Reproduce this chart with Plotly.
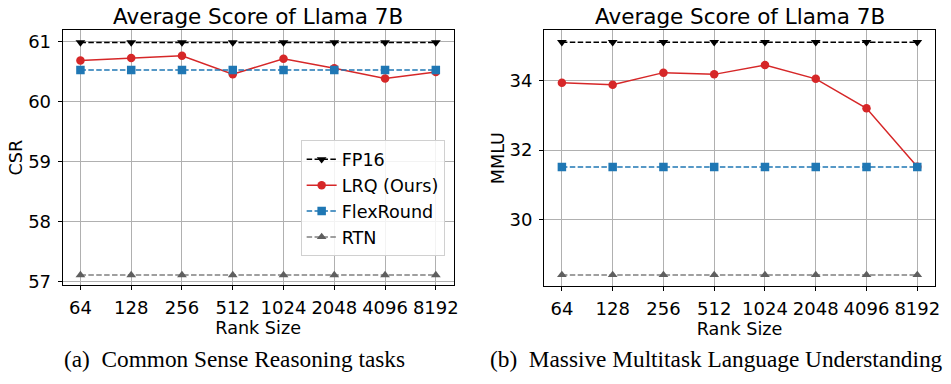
import plotly.graph_objects as go

ranks = ["64", "128", "256", "512", "1024", "2048", "4096", "8192"]

csr_fp16 = [60.98] * 8
csr_lrq = [60.68, 60.72, 60.76, 60.45, 60.71, 60.55, 60.38, 60.49]
csr_flex = [60.52] * 8
csr_rtn = [57.11] * 8

mmlu_fp16 = [35.12] * 8
mmlu_lrq = [33.95, 33.89, 34.24, 34.19, 34.46, 34.06, 33.21, 31.52]
mmlu_flex = [31.51] * 8
mmlu_rtn = [28.39] * 8

names = ["FP16", "LRQ (Ours)", "FlexRound", "RTN"]
line_colors = ["#000000", "#d62728", "#1f77b4", "#808080"]
marker_colors = ["#000000", "#d62728", "#1f77b4", "#5f5f5f"]
symbols = ["triangle-down", "circle", "square", "triangle-up"]
dashes = ["5.5px,2.4px", "solid", "5.5px,2.4px", "5.5px,2.4px"]

FONT = "DejaVu Sans"
TICK = 18
LAB = 17.6
fig = go.Figure()

left = [csr_fp16, csr_lrq, csr_flex, csr_rtn]
right = [mmlu_fp16, mmlu_lrq, mmlu_flex, mmlu_rtn]

for i in range(4):
    fig.add_trace(go.Scatter(
        x=list(range(8)), y=left[i], name=names[i], mode="lines+markers",
        line=dict(color=line_colors[i], width=1.5, dash=dashes[i]),
        marker=dict(symbol=symbols[i], size=8.5, color=marker_colors[i]),
        xaxis="x", yaxis="y", legendgroup=names[i], showlegend=True))
for i in range(4):
    fig.add_trace(go.Scatter(
        x=list(range(8)), y=right[i], name=names[i], mode="lines+markers",
        line=dict(color=line_colors[i], width=1.5, dash=dashes[i]),
        marker=dict(symbol=symbols[i], size=8.5, color=marker_colors[i]),
        xaxis="x2", yaxis="y2", legendgroup=names[i], showlegend=False))

common_x = dict(
    tickmode="array", tickvals=list(range(8)), ticktext=ranks,
    range=[-0.35, 7.35], showgrid=True, gridcolor="#b0b0b0", gridwidth=0.8,
    showline=True, linecolor="black", linewidth=1, mirror=True,
    ticks="outside", ticklen=4, tickcolor="black", zeroline=False,
    ticklabelstandoff=3,
    tickfont=dict(family=FONT, size=TICK, color="black"),
    title=dict(text="Rank Size", font=dict(family=FONT, size=LAB, color="black"), standoff=1),
)
common_y = dict(
    showgrid=True, gridcolor="#b0b0b0", gridwidth=0.8,
    showline=True, linecolor="black", linewidth=1, mirror=True,
    ticks="outside", ticklen=4, tickcolor="black", zeroline=False,
    ticklabelstandoff=3,
    tickfont=dict(family=FONT, size=TICK, color="black"),
)

fig.update_layout(
    width=951, height=384,
    margin=dict(l=0, r=0, t=0, b=0),
    paper_bgcolor="white", plot_bgcolor="white",
    xaxis=dict(domain=[63/951, 456/951], anchor="y", **common_x),
    yaxis=dict(domain=[1-290/384, 1-31/384], anchor="x", range=[56.95, 61.18],
               tickvals=[57, 58, 59, 60, 61],
               title=dict(text="CSR", font=dict(family=FONT, size=LAB, color="black"), standoff=0),
               **common_y),
    xaxis2=dict(domain=[547/951, 940/951], anchor="y2", **common_x),
    yaxis2=dict(domain=[1-291/384, 1-31/384], anchor="x2", range=[28.08, 35.46],
                tickvals=[30, 32, 34],
                title=dict(text="MMLU", font=dict(family=FONT, size=LAB, color="black"), standoff=0),
                **common_y),
    showlegend=True,
    legend=dict(
        x=447/951, y=1-143/384, xanchor="right", yanchor="top",
        bgcolor="rgba(255,255,255,0.85)", bordercolor="#d0d0d0", borderwidth=1,
        font=dict(family=FONT, size=LAB, color="black"),
        tracegroupgap=0, itemwidth=30,
    ),
    annotations=[
        dict(text="Average Score of Llama 7B", x=(63+456)/2/951, y=1-17/384,
             xref="paper", yref="paper", showarrow=False, xanchor="center", yanchor="middle",
             font=dict(family=FONT, size=21.5, color="black")),
        dict(text="Average Score of Llama 7B", x=(547+940)/2/951, y=1-17/384,
             xref="paper", yref="paper", showarrow=False, xanchor="center", yanchor="middle",
             font=dict(family=FONT, size=21.5, color="black")),
        dict(text="(a)  Common Sense Reasoning tasks", x=235.5/951, y=1-366/384,
             xref="paper", yref="paper", showarrow=False, xanchor="center", yanchor="middle",
             font=dict(family="Liberation Serif", size=23.3, color="black")),
        dict(text="(b)  Massive Multitask Language Understanding", x=720/951, y=1-366/384,
             xref="paper", yref="paper", showarrow=False, xanchor="center", yanchor="middle",
             font=dict(family="Liberation Serif", size=23.3, color="black")),
    ],
)

fig.write_html("out.html")
